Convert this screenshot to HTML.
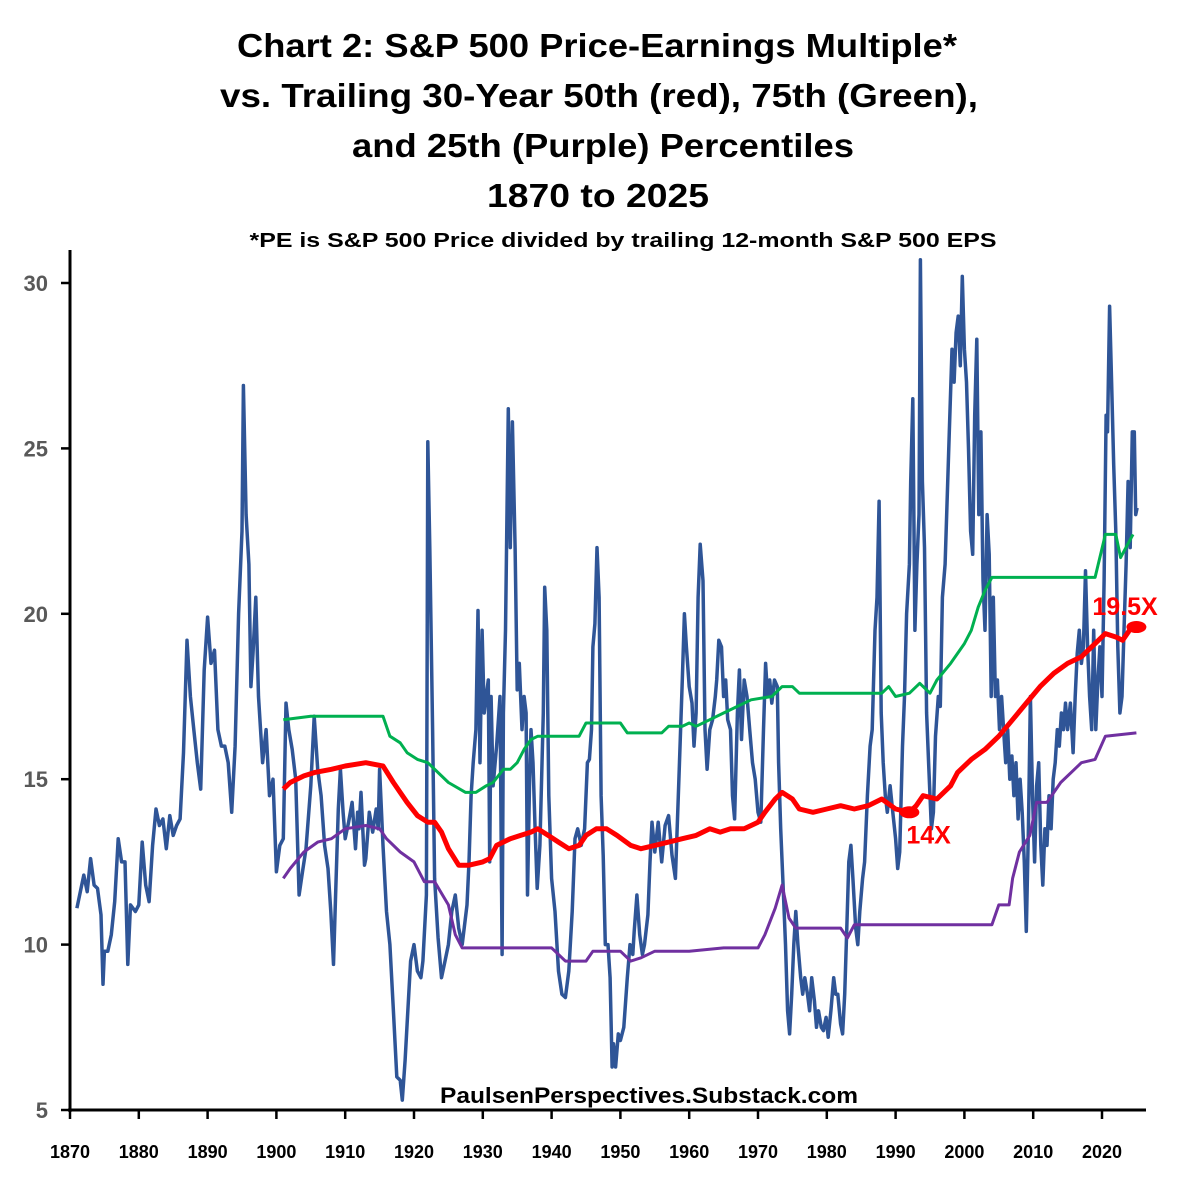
<!DOCTYPE html>
<html><head><meta charset="utf-8"><style>
html,body{margin:0;padding:0;background:#fff;}
svg{display:block;font-family:"Liberation Sans",sans-serif;}
</style></head><body>
<svg id="chart" width="1197" height="1179" viewBox="0 0 1197 1179">
<g font-weight="bold" text-anchor="middle" fill="#000">
<text x="597" y="57" font-size="33" textLength="720" lengthAdjust="spacingAndGlyphs">Chart 2: S&amp;P 500 Price-Earnings Multiple*</text>
<text x="599" y="107" font-size="33" textLength="758" lengthAdjust="spacingAndGlyphs">vs. Trailing 30-Year 50th (red), 75th (Green),</text>
<text x="603" y="157" font-size="33" textLength="502" lengthAdjust="spacingAndGlyphs">and 25th (Purple) Percentiles</text>
<text x="598" y="207" font-size="33" textLength="222" lengthAdjust="spacingAndGlyphs">1870 to 2025</text>
<text x="623" y="247" font-size="20" textLength="747" lengthAdjust="spacingAndGlyphs">*PE is S&amp;P 500 Price divided by trailing 12-month S&amp;P 500 EPS</text>
</g>
<g id="axes"></g>
<g id="series"></g>
<text x="649" y="1103" font-size="22" font-weight="bold" text-anchor="middle" textLength="418" lengthAdjust="spacingAndGlyphs">PaulsenPerspectives.Substack.com</text>
</svg>
<script>
const xTicks=[1870,1880,1890,1900,1910,1920,1930,1940,1950,1960,1970,1980,1990,2000,2010,2020];
const yTicks=[5,10,15,20,25,30];
const peYears=[1871,1872,1872.5,1873,1873.5,1874,1874.5,1874.8,1875,1875.5,1876,1876.5,1877,1877.5,1878,1878.4,1878.8,1879.5,1880,1880.5,1881,1881.5,1882,1882.5,1883,1883.5,1884,1884.5,1885,1885.5,1886,1886.5,1887,1887.5,1888,1888.5,1889,1889.5,1890,1890.5,1891,1891.5,1892,1892.5,1893,1893.5,1894,1894.5,1895,1895.2,1895.6,1896,1896.3,1896.6,1897,1897.4,1898,1898.5,1899,1899.5,1900,1900.5,1901,1901.4,1901.8,1902.3,1902.8,1903.3,1903.8,1904.3,1905,1905.5,1906,1906.5,1907,1907.5,1907.9,1908.3,1908.6,1909,1909.3,1909.7,1910,1910.5,1911,1911.5,1911.8,1912,1912.3,1912.8,1913,1913.5,1914,1914.5,1914.8,1915,1915.5,1916,1916.5,1917,1917.5,1918,1918.3,1918.7,1919,1919.5,1920,1920.5,1921,1921.3,1921.8,1922,1922.3,1922.7,1923,1923.5,1924,1924.5,1925,1925.5,1926,1926.5,1927,1927.3,1927.7,1928,1928.3,1928.6,1929,1929.3,1929.6,1929.9,1930.2,1930.5,1930.8,1931,1931.2,1931.5,1932,1932.5,1932.8,1933,1933.3,1933.7,1934,1934.3,1934.7,1935,1935.3,1935.7,1936,1936.3,1936.5,1936.8,1937,1937.3,1937.6,1937.9,1938.3,1938.8,1939,1939.3,1939.6,1940,1940.5,1941,1941.5,1942,1942.5,1943,1943.4,1943.8,1944.3,1944.8,1945.2,1945.5,1945.8,1946,1946.3,1946.6,1946.9,1947.2,1947.5,1947.8,1948.2,1948.5,1948.8,1949,1949.3,1949.7,1950,1950.5,1951,1951.4,1951.8,1952,1952.4,1952.8,1953.2,1953.5,1954,1954.3,1954.6,1955,1955.5,1956,1956.5,1957,1957.5,1958,1958.5,1959,1959.3,1959.6,1960,1960.4,1960.7,1961,1961.3,1961.6,1962,1962.3,1962.6,1963,1963.4,1963.8,1964,1964.3,1964.7,1965,1965.3,1965.6,1966,1966.3,1966.6,1967,1967.3,1967.6,1968,1968.4,1968.8,1969.2,1969.6,1970,1970.4,1970.8,1971.1,1971.4,1971.7,1972,1972.4,1972.8,1973,1973.3,1973.6,1974,1974.3,1974.6,1974.9,1975.2,1975.5,1975.8,1976.2,1976.5,1976.8,1977.2,1977.5,1977.8,1978.2,1978.5,1978.8,1979.2,1979.5,1979.9,1980.2,1980.6,1981,1981.3,1981.6,1982,1982.3,1982.6,1982.9,1983.2,1983.5,1983.8,1984.2,1984.5,1984.8,1985.2,1985.5,1985.9,1986.3,1986.6,1987,1987.3,1987.6,1987.9,1988.2,1988.5,1988.8,1989.2,1989.6,1990,1990.3,1990.6,1991,1991.3,1991.6,1992,1992.2,1992.5,1992.8,1993.1,1993.4,1993.6,1993.9,1994.2,1994.5,1994.8,1995.2,1995.5,1995.8,1996.2,1996.5,1996.8,1997.2,1997.5,1997.8,1998.2,1998.5,1998.8,1999.1,1999.4,1999.7,2000,2000.3,2000.6,2000.9,2001.2,2001.5,2001.8,2002.1,2002.4,2002.7,2003,2003.3,2003.6,2003.9,2004.2,2004.5,2004.8,2005.1,2005.4,2005.7,2006,2006.3,2006.6,2006.9,2007.2,2007.5,2007.8,2008.1,2008.4,2008.7,2009,2009.3,2009.6,2009.9,2010.2,2010.5,2010.8,2011.1,2011.4,2011.7,2012,2012.3,2012.6,2012.9,2013.2,2013.5,2013.8,2014.1,2014.4,2014.7,2015,2015.4,2015.8,2016.1,2016.4,2016.7,2017,2017.3,2017.6,2017.9,2018.2,2018.5,2018.8,2019.1,2019.4,2019.7,2020,2020.3,2020.6,2020.8,2021.1,2021.4,2021.7,2022,2022.3,2022.6,2022.9,2023.2,2023.5,2023.8,2024.1,2024.4,2024.7,2024.9,2025.1];
const peValues=[11.1,12.1,11.6,12.6,11.8,11.7,10.9,8.8,9.8,9.8,10.3,11.3,13.2,12.5,12.5,9.4,11.2,11.0,11.2,13.1,11.8,11.3,13.0,14.1,13.6,13.8,12.9,13.9,13.3,13.6,13.8,15.8,19.2,17.5,16.5,15.5,14.7,18.3,19.9,18.5,18.9,16.5,16.0,16.0,15.5,14.0,16.0,20.0,22.5,26.9,23.0,21.5,17.8,18.8,20.5,17.5,15.5,16.5,14.5,15.0,12.2,13.0,13.2,17.3,16.5,15.9,15.0,11.5,12.2,12.9,14.8,16.9,15.3,14.5,13.0,12.3,11.0,9.4,11.5,14.1,15.3,14.0,13.2,13.7,14.3,12.9,14.0,13.5,14.6,12.4,12.6,14.0,13.4,14.1,13.5,15.3,13.0,11.0,10.0,8.0,6.0,5.9,5.3,6.5,7.6,9.5,10.0,9.2,9.0,9.5,11.5,25.2,22.0,16.5,12.0,10.2,9.0,9.5,10.0,11.0,11.5,10.5,10.0,10.5,11.2,12.5,14.5,15.5,16.5,20.1,15.5,19.5,17.0,17.5,18.0,12.5,17.5,14.8,16.0,17.5,9.7,17.0,19.5,26.2,22.0,25.8,22.0,17.7,18.5,16.5,17.5,17.0,11.5,15.0,16.5,15.5,13.5,11.7,13.0,17.0,20.8,19.5,14.5,12.0,11.0,9.2,8.5,8.4,9.2,11.0,13.2,13.5,13.0,13.5,15.5,15.6,16.5,19.0,19.7,22.0,20.5,14.5,12.7,10.0,10.0,9.0,6.3,7.0,6.3,7.3,7.1,7.5,9.0,10.0,9.7,10.4,11.5,10.3,9.7,10.0,10.9,12.5,13.7,12.8,13.7,12.5,13.6,13.9,12.7,12.0,15.0,18.0,20.0,19.0,17.8,17.3,16.0,17.0,20.5,22.1,21.0,16.5,15.3,16.5,16.8,17.5,18.0,19.2,19.0,17.5,18.0,16.8,16.5,14.5,13.8,17.0,18.3,16.2,18.0,17.5,16.5,15.5,15.0,14.0,13.7,16.5,18.5,17.5,18.0,17.3,18.0,17.8,15.5,13.5,12.0,10.0,8.0,7.3,8.5,10.0,11.0,10.0,9.0,8.5,9.0,8.5,8.0,9.0,8.3,7.5,8.0,7.5,7.4,7.8,7.2,8.0,9.0,8.5,8.5,7.6,7.3,8.5,10.5,12.5,13.0,12.0,10.5,10.0,11.0,12.0,12.5,14.5,16.0,16.5,19.5,20.5,23.4,17.0,15.5,14.5,14.0,14.8,14.0,13.2,12.3,12.8,16.0,17.5,20.0,21.5,24.0,26.5,19.5,21.5,23.0,30.7,24.0,22.0,17.0,15.5,13.5,14.0,16.3,17.5,17.2,20.5,21.5,23.5,25.5,28.0,27.0,28.5,29.0,27.5,30.2,28.0,27.0,25.0,22.5,21.8,26.0,28.3,23.0,25.5,21.0,19.5,23.0,21.8,17.5,20.5,17.5,18.0,16.5,17.5,16.5,15.5,16.5,15.0,15.7,14.5,15.5,13.8,15.0,14.0,12.5,10.4,13.5,17.5,14.5,12.5,14.8,15.5,13.0,11.8,13.5,13.0,14.5,13.5,15.0,15.5,16.5,16.0,17.0,16.5,17.3,16.5,17.3,15.8,17.5,18.8,19.5,18.5,19.0,21.3,19.0,17.5,16.5,19.5,16.5,18.0,19.0,17.5,21.0,26.0,25.5,29.3,27.0,24.5,22.5,19.0,17.0,17.5,19.5,21.5,24.0,22.0,25.5,25.5,23.0,23.2];
const p75Years=[1901,1905,1915.5,1916.5,1918,1919,1920.5,1922,1925,1927.5,1929,1930.5,1931.5,1933,1934,1935,1936,1937,1938,1944,1945,1950,1951,1956,1957,1959,1960,1961,1963,1965,1967,1969,1972,1973.5,1975,1976,1988,1989,1990,1992,1993.5,1994,1995,1996,1998,2000,2001,2002,2003,2004,2019,2020.5,2022,2022.7,2024.5];
const p75Values=[16.8,16.9,16.9,16.3,16.1,15.8,15.6,15.5,14.9,14.6,14.6,14.8,14.9,15.3,15.3,15.5,15.9,16.2,16.3,16.3,16.7,16.7,16.4,16.4,16.6,16.6,16.7,16.6,16.8,17.0,17.2,17.4,17.5,17.8,17.8,17.6,17.6,17.8,17.5,17.6,17.9,17.8,17.6,18.0,18.5,19.1,19.5,20.2,20.7,21.1,21.1,22.4,22.4,21.7,22.4];
const p50Years=[1901,1902,1904,1905.5,1908,1910,1913,1915.5,1917,1919,1920.5,1922,1923,1924,1925,1926.5,1928,1930,1931,1932,1934,1935.5,1937,1938,1939.5,1941,1942.5,1944,1945,1946.5,1948,1949.5,1951.5,1953,1955,1957,1959,1961,1963,1964.5,1966,1968,1970,1971,1972.5,1973.5,1975,1976,1978,1980,1982,1984,1986,1988,1990,1992,1993,1994,1996,1998,1999,2001,2003,2005,2007,2009,2011,2013,2015,2017,2019,2020.5,2022,2023,2024,2025];
const p50Values=[14.7,14.9,15.1,15.2,15.3,15.4,15.5,15.4,14.9,14.3,13.9,13.7,13.7,13.4,12.9,12.4,12.4,12.5,12.6,13.0,13.2,13.3,13.4,13.5,13.3,13.1,12.9,13.0,13.3,13.5,13.5,13.3,13.0,12.9,13.0,13.1,13.2,13.3,13.5,13.4,13.5,13.5,13.7,14.0,14.4,14.6,14.4,14.1,14.0,14.1,14.2,14.1,14.2,14.4,14.1,14.0,14.2,14.5,14.4,14.8,15.2,15.6,15.9,16.3,16.8,17.3,17.8,18.2,18.5,18.7,19.1,19.4,19.3,19.2,19.5,19.6];
const p25Years=[1901,1902,1904,1906,1908,1910,1913,1915,1916,1918,1920,1921.5,1923,1925,1926,1927,1940,1942,1945,1946,1950,1951.5,1953,1955,1960,1965,1970,1971,1972.5,1973.5,1974.5,1975.5,1982,1983,1984,2004,2005,2006.5,2007,2008,2009.5,2010.5,2012,2014,2016,2017,2019,2020.5,2025];
const p25Values=[12.0,12.3,12.8,13.1,13.2,13.5,13.6,13.5,13.2,12.8,12.5,11.9,11.9,11.2,10.3,9.9,9.9,9.5,9.5,9.8,9.8,9.5,9.6,9.8,9.8,9.9,9.9,10.3,11.1,11.8,10.8,10.5,10.5,10.2,10.6,10.6,11.2,11.2,12.0,12.8,13.3,14.3,14.3,14.9,15.3,15.5,15.6,16.3,16.4];
const markerYears=[1992,2025];
const markerValues=[14,19.6];
const markerLabels=["14X","19.5X"];

const NS="http://www.w3.org/2000/svg";
const X0=70,X1=1102,Y0=1110,Y1=283;
function sx(yr){return X0+(yr-1870)*(X1-X0)/150;}
function sy(v){return Y0-(v-5)*(Y0-Y1)/25;}
function mk(tag,attrs,parent){const e=document.createElementNS(NS,tag);for(const k in attrs)e.setAttribute(k,attrs[k]);parent.appendChild(e);return e;}
const axes=document.getElementById('axes');
const ser=document.getElementById('series');

const ya=mk('line',{x1:X0,y1:250,x2:X0,y2:Y0+2,stroke:'#000','stroke-width':3},axes);


const xa=mk('line',{x1:X0-2,y1:Y0,x2:1146,y2:Y0,stroke:'#000','stroke-width':3},axes);


yTicks.forEach(v=>{
  const t=mk('line',{x1:X0-9,y1:sy(v),x2:X0,y2:sy(v),stroke:'#000','stroke-width':2.5},axes);
  
  
  const l=mk('text',{x:48,y:sy(v)+8,'font-size':22,'font-weight':'bold',fill:'#595959','text-anchor':'end'},axes);
  
  
  l.textContent=v;
});
xTicks.forEach(yr=>{
  const t=mk('line',{x1:sx(yr),y1:Y0,x2:sx(yr),y2:Y0+9,stroke:'#000','stroke-width':2.5},axes);
  
  
  const l=mk('text',{x:sx(yr),y:1158,'font-size':18,'font-weight':'bold',fill:'#000','text-anchor':'middle'},axes);
  
  
  l.textContent=yr;
});
function pts(xs,vs){return xs.map((x,i)=>sx(x).toFixed(1)+','+sy(vs[i]).toFixed(1)).join(' ');}
const pe=mk('polyline',{points:pts(peYears,peValues),fill:'none',stroke:'#2f5597','stroke-width':3.5,'stroke-linejoin':'round'},ser);


const g=mk('polyline',{points:pts(p75Years,p75Values),fill:'none',stroke:'#00b050','stroke-width':3,'stroke-linejoin':'round'},ser);


const p=mk('polyline',{points:pts(p25Years,p25Values),fill:'none',stroke:'#7030a0','stroke-width':3,'stroke-linejoin':'round'},ser);


const r=mk('polyline',{points:pts(p50Years,p50Values),fill:'none',stroke:'#ff0000','stroke-width':5,'stroke-linejoin':'round'},ser);


markerYears.forEach((yr,i)=>{
  const c=mk('ellipse',{cx:sx(yr),cy:sy(markerValues[i]),rx:10,ry:6,fill:'#ff0000'},ser);
  
  
  const t=mk('text',{x:i==0?sx(yr)-3:sx(yr)-44,y:i==0?sy(markerValues[i])+31:sy(markerValues[i])-12,'font-size':25,'font-weight':'bold',fill:'#ff0000'},ser);
  
  
  t.textContent=markerLabels[i];
});
</script>
</body></html>
